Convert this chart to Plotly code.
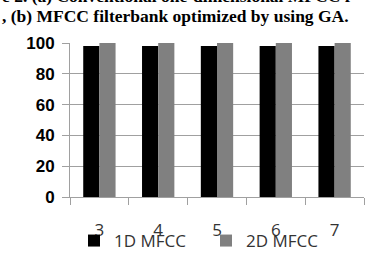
import plotly.graph_objects as go

categories = ["3", "4", "5", "6", "7"]
mfcc_1d = [98, 98, 98, 98, 98]
mfcc_2d = [100, 100, 100, 100, 100]
y_ticks = [0, 20, 40, 60, 80, 100]

fig = go.Figure()
fig.add_trace(go.Bar(x=categories, y=mfcc_1d, name="1D MFCC", marker=dict(color="#000000", line=dict(width=0))))
fig.add_trace(go.Bar(x=categories, y=mfcc_2d, name="2D MFCC", marker=dict(color="#808080", line=dict(width=0))))

fig.update_layout(
    width=383, height=254,
    margin=dict(l=70, r=19, t=43, b=57, autoexpand=False),
    paper_bgcolor="white", plot_bgcolor="white",
    barmode="group", bargap=0.45, bargroupgap=0,
    showlegend=True,
    legend=dict(orientation="h", x=74 / 383, y=13 / 254, xref="container", yref="container",
                xanchor="left", yanchor="middle",
                font=dict(family="Open Sans", size=17, color="#333333"),
                entrywidth=87, entrywidthmode="pixels",
                itemwidth=30, tracegroupgap=0, bgcolor="rgba(0,0,0,0)"),
    font=dict(family="Open Sans"),
)
fig.update_xaxes(type="category", tickson="boundaries", ticks="outside", ticklen=7,
                 tickcolor="#a0a0a0", showline=True, linecolor="#a0a0a0", linewidth=1,
                 showgrid=False, ticklabelstandoff=18,
                 tickfont=dict(family="Open Sans", size=17, color="#333333"))
fig.update_yaxes(range=[0, 100], tickvals=y_ticks, ticks="outside", ticklen=7,
                 tickcolor="#a0a0a0", showgrid=True, gridcolor="#a0a0a0", gridwidth=1,
                 showline=True, linecolor="#a0a0a0", zeroline=False, ticklabelstandoff=4,
                 tickfont=dict(family="Liberation Sans", size=17, color="#000000", weight="bold"))

fig.add_annotation(text="e 2. (a) Conventional one-dimensional MFCC f", xref="paper", yref="paper",
                   x=-70/294, y=1.0, xanchor="left", yanchor="bottom", yshift=35, showarrow=False,
                   font=dict(family="Liberation Serif", size=17.5, color="#000000", weight="bold"))
fig.add_annotation(text=", (b) MFCC filterbank optimized by using GA.", xref="paper", yref="paper",
                   x=-70/294, y=1.0, xanchor="left", yanchor="bottom", yshift=15, showarrow=False,
                   font=dict(family="Liberation Serif", size=17.5, color="#000000", weight="bold"))

fig.write_html("out.html")
